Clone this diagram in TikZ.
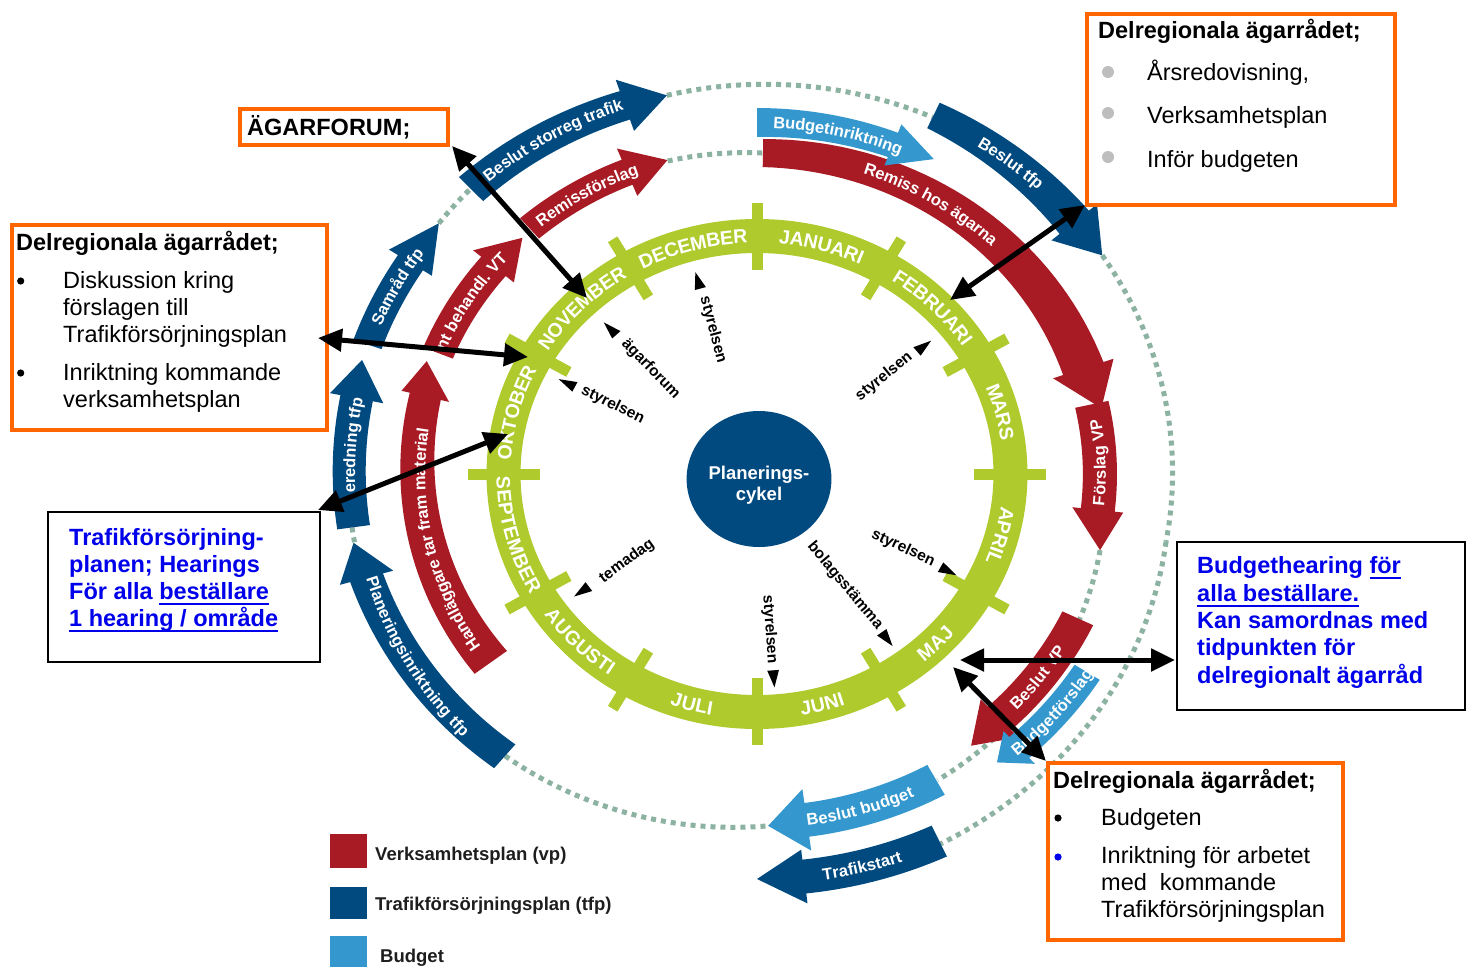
\documentclass[tikz,border=0pt]{standalone}
\usepackage{fontspec}
\setmainfont{Liberation Sans}
\usetikzlibrary{decorations.text, arrows.meta}

\definecolor{vpred}{RGB}{168,26,36}
\definecolor{tfpblue}{RGB}{0,74,128}
\definecolor{budblue}{RGB}{52,152,206}
\definecolor{ringgreen}{RGB}{175,202,45}
\definecolor{dotc}{RGB}{140,178,162}
\definecolor{orng}{RGB}{255,102,0}
\definecolor{tblue}{RGB}{0,0,235}
\definecolor{bulgrey}{RGB}{190,190,190}
\definecolor{lgtext}{RGB}{30,30,30}

\newcommand\mfont{\fontsize{19.5}{19.5}\selectfont\bfseries}
\newcommand\afont{\fontsize{16.5}{16.5}\selectfont\bfseries}

\newsavebox\ulbox
\newcommand\ulx[1]{\sbox\ulbox{#1}\rlap{\rule[-5.5pt]{\wd\ulbox}{2pt}}\usebox\ulbox}

% curved arrow: colour, tail angle, head-base angle, tip angle, inner r tail, outer r tail, inner r base, outer r base, tip r
\newcommand\carrow[9]{%
 \fill[#1] plot[domain=#2:#3, samples=40] ({(#5+(#7-#5)*(\x-(#2))/((#3)-(#2)))*cos(\x)}, {(#5+(#7-#5)*(\x-(#2))/((#3)-(#2)))*sin(\x)})
 -- (#3:{#7-\hw}) -- (#4:#9) -- (#3:{#8+\hw})
 -- plot[domain=#3:#2, samples=40] ({(#6+(#8-#6)*(\x-(#2))/((#3)-(#2)))*cos(\x)}, {(#6+(#8-#6)*(\x-(#2))/((#3)-(#2)))*sin(\x)}) -- cycle;}

\newcommand\spiral[4]{\draw[dotline] plot[domain=#1:#2, samples=60] ({(#3+(#4-#3)*(\x-(#1))/((#2)-(#1)))*cos(\x)}, {(#3+(#4-#3)*(\x-(#1))/((#2)-(#1)))*sin(\x)});}

% text along arcs: centre angle, half span, radius, font, raise, text
\newcommand\tcw[6]{\path[decorate, decoration={text along path, text={|#4|#6}, text align=center, text color=white, raise=#5}] ({#1+#2}:#3) arc[start angle={#1+#2}, end angle={#1-#2}, radius=#3];}
\newcommand\tccw[6]{\path[decorate, decoration={text along path, text={|#4|#6}, text align=center, text color=white, raise=#5}] ({#1-#2}:#3) arc[start angle={#1-#2}, end angle={#1+#2}, radius=#3];}
\newcommand\mcw[2]{\tcw{#1}{24}{238}{\mfont}{-7pt}{#2}}
\newcommand\mccw[2]{\tccw{#1}{24}{238}{\mfont}{-7pt}{#2}}
\newcommand\acw[4]{\tcw{#1}{#2}{#3}{\afont}{-5.9pt}{#4}}
\newcommand\accw[4]{\tccw{#1}{#2}{#3}{\afont}{-5.9pt}{#4}}

% radial label: name, angle, text r, rotation, tip r, text
\newcommand\rlab[6]{%
 \node[slab, rotate=#4] (#1) at (#2:#3) {#6};
 \fill[black] (#2:#5) -- ({#2+1.6}:{#5-17}) -- ({#2-1.6}:{#5-17}) -- cycle;}

\tikzset{
 obox/.style={draw=orng, line width=3.5pt, fill=white, inner sep=0, anchor=north west},
 kbox/.style={draw=black, line width=2pt, fill=white, inner sep=0, anchor=north west},
 bx/.style={inner sep=0, anchor=base west, font=\fontsize{23.5}{27}\selectfont},
 bxh/.style={inner sep=0, anchor=base west, font=\fontsize{23.5}{27}\selectfont\bfseries},
 bxb/.style={inner sep=0, anchor=base west, font=\fontsize{23.5}{27}\selectfont\bfseries, text=tblue},
 lg/.style={inner sep=0, anchor=base west, font=\fontsize{18.5}{18.5}\selectfont\bfseries, text=lgtext},
 slab/.style={inner sep=0, font=\fontsize{15.5}{15.5}\selectfont\bfseries, text=black},
 dotline/.style={draw=dotc, line width=5pt, dash pattern=on 5pt off 5pt},
 dbl/.style={line width=5pt, {Triangle[length=24pt,width=22pt]}-{Triangle[length=24pt,width=22pt]}},
}

\begin{document}
\begin{tikzpicture}[x=1pt, y=1pt]
\fill[white] (0,0) rectangle (1468,-967);
\useasboundingbox (0,0) rectangle (1468,-967);

\begin{scope}[shift={(757,-474)}, xscale=1.065]
 % dotted tracks
 \spiral{102.6}{65.2}{388}{393}
 \spiral{105}{89}{324}{321}
 \spiral{140}{133.5}{390}{392}
 \spiral{188}{190.3}{384}{384}
 \spiral{230}{271.7}{368}{352}
 \spiral{34}{-10}{391}{390}
 \spiral{-10}{-65}{390}{408}
 \spiral{-13.3}{-61}{331}{350}

 % red arrows (vp)
 \def\hw{8}\carrow{vpred}{217}{166}{160}{294}{332}{306}{336}{330}
 \def\hw{10}\carrow{vpred}{158}{140}{133}{308}{338}{308}{338}{323}
 \def\hw{12}\carrow{vpred}{131}{112}{105}{312}{339}{312}{339}{325}
 \def\hw{10}\carrow{vpred}{89}{19}{11.5}{307}{335}{304}{344}{330}
 \def\hw{8}\carrow{vpred}{12.5}{-6.4}{-13.3}{306}{338}{306}{338}{331}
 \def\hw{10}\carrow{vpred}{-25.6}{-47}{-53.5}{318}{350}{318}{350}{338}

 % dark blue arrows (tfp)
 \def\hw{10}\carrow{tfpblue}{230}{195.8}{190.3}{353}{384}{365}{397}{385}
 \def\hw{10}\carrow{tfpblue}{188}{168.6}{162.9}{367}{398}{368}{399}{388}
 \def\hw{10}\carrow{tfpblue}{160.5}{147}{140}{374}{402}{374}{402}{390}
 \def\hw{12}\carrow{tfpblue}{133.3}{108.6}{102.6}{375}{408}{374}{404}{388}
 \def\hw{10}\carrow{tfpblue}{65.2}{40.2}{34}{381}{409}{372}{408}{391}
 \def\hw{10}\carrow{tfpblue}{-65}{-83.7}{-90}{388}{422}{388}{422}{405}

 % light blue arrows (budget)
 \def\hw{9}\carrow{budblue}{90}{68.8}{62.2}{337}{366}{340}{366}{356}
 \def\hw{8}\carrow{budblue}{-32.6}{-48}{-52}{354}{382}{354}{382}{366}
 \def\hw{14}\carrow{budblue}{-61.2}{-82.3}{-88.3}{332}{366}{332}{366}{352}

 % arrow labels
 \acw{192.5}{35}{317}{Handläggare tar fram material}
 \acw{147.5}{25}{323}{nt behandl. VT}
 \acw{120}{25}{325}{Remissförslag}
 \acw{58.5}{30}{322}{Remiss hos ägarna}
 \acw{77.3}{20}{352}{Budgetinriktning}
 \acw{52.3}{20}{393}{Beslut tfp}
 \acw{120}{22}{391}{Beslut storreg trafik}
 \acw{151.2}{20}{388}{Samråd tfp}
 \acw{175.7}{20}{383}{eredning tfp}
 \accw{-150.5}{25}{376}{Planeringsinriktning tfp}
 \accw{2}{22}{322}{Förslag VP}
 \accw{-37.5}{20}{334}{Beslut VP}
 \accw{-40.5}{20}{368}{Budgetförslag}
 \accw{-73.7}{22}{349}{Beslut budget}
 \accw{-75.8}{20}{405}{Trafikstart}

 % green month ring
 \draw[ringgreen, line width=34pt] (0,0) circle[radius=238];
 \foreach \a in {0,30,...,330} \draw[ringgreen, line width=11pt] (\a:204) -- (\a:271);
 \mcw{165}{OKTOBER}
 \mcw{135}{NOVEMBER}
 \mcw{105}{DECEMBER}
 \mcw{75}{JANUARI}
 \mcw{45}{FEBRUARI}
 \mcw{15}{MARS}
 \mcw{-15}{APRIL}
 \mccw{-45}{MAJ}
 \mccw{-75}{JUNI}
 \mccw{-105}{JULI}
 \mccw{-135}{AUGUSTI}
 \mccw{-165}{SEPTEMBER}

 % centre
 \fill[tfpblue] (1.9,-5) circle[radius=68];

 % radial labels
 \rlab{s1}{106}{150}{-75}{210}{styrelsen}
 \rlab{s2}{133.5}{145}{-46}{209}{ägarforum}
 \rlab{s3}{153}{152}{-26}{209}{styrelsen}
 \rlab{s4}{215.5}{150}{36}{211}{temadag}
 \rlab{s5}{-85.6}{156}{-86}{214}{styrelsen}
 \rlab{s6}{-53.5}{139}{-50}{214}{bolagsstämma}
 \rlab{s7}{-28.4}{156}{-25}{213}{styrelsen}
 \rlab{s8}{39.2}{154}{39}{211}{styrelsen}
\end{scope}

\node[font=\fontsize{18.5}{21}\selectfont\bfseries, text=white, align=center, inner sep=0] (pc) at (759,-485) {Planerings-\\cykel};

% legend
\fill[vpred] (330,-834) rectangle (367,-868);
\fill[tfpblue] (330,-887) rectangle (367,-919);
\fill[budblue] (330,-936) rectangle (367,-967);
\node[lg] (lg1) at (375,-860) {Verksamhetsplan (vp)};
\node[lg] (lg2) at (375,-910) {Trafikförsörjningsplan (tfp)};
\node[lg] (lg3) at (380,-962) {Budget};

% boxes
\node[obox, minimum width=208, minimum height=36] (agar) at (238,-107) {};
\node[bxh] (agart) at (247,-135) {ÄGARFORUM;};

\node[obox, minimum width=315, minimum height=205] (dl) at (10,-223) {};
\node[bxh] (dlh) at (16,-250) {Delregionala ägarrådet;};
\fill[black] (20.7,-281) circle[radius=3.6];
\fill[black] (20.7,-373) circle[radius=3.6];
\node[bx] (dl1) at (63,-288) {Diskussion kring};
\node[bx] (dl2) at (63,-315) {förslagen till};
\node[bx] (dl3) at (63,-342.7) {Trafikförsörjningsplan};
\node[bx] (dl4) at (63,-380) {Inriktning kommande};
\node[bx] (dl5) at (63,-407.7) {verksamhetsplan};

\node[obox, minimum width=308, minimum height=191] (tr) at (1085,-12) {};
\node[bxh] (trh) at (1098,-38.5) {Delregionala ägarrådet;};
\fill[bulgrey] (1108,-72) circle[radius=6];
\fill[bulgrey] (1108,-113) circle[radius=6];
\fill[bulgrey] (1108,-157) circle[radius=6];
\node[bx] (tr1) at (1147,-80) {Årsredovisning,};
\node[bx] (tr2) at (1147,-123) {Verksamhetsplan};
\node[bx] (tr3) at (1147,-167) {Inför budgeten};

\node[kbox, minimum width=272, minimum height=150] (tfp) at (47,-511) {};
\node[bxb] (tfp1) at (69,-545) {Trafikförsörjning-};
\node[bxb] (tfp2) at (69,-572) {planen; Hearings};
\node[bxb] (tfp3) at (69,-599) {För alla \ulx{beställare}};
\node[bxb] (tfp4) at (69,-626) {\ulx{1 hearing / område}};

\node[kbox, minimum width=288, minimum height=168] (bh) at (1176,-541) {};
\node[bxb] (bh1) at (1197,-573) {Budgethearing \ulx{för}};
\node[bxb] (bh2) at (1197,-601) {\ulx{alla beställare.}};
\node[bxb] (bh3) at (1197,-628) {Kan samordnas med};
\node[bxb] (bh4) at (1197,-655) {tidpunkten för};
\node[bxb] (bh5) at (1197,-683) {delregionalt ägarråd};

\node[obox, minimum width=295, minimum height=177] (br) at (1046,-761) {};
\node[bxh] (brh) at (1053,-788) {Delregionala ägarrådet;};
\fill[black] (1058,-818) circle[radius=3.6];
\fill[tblue] (1058,-857) circle[radius=3.6];
\node[bx] (br1) at (1101,-825) {Budgeten};
\node[bx] (br2) at (1101,-863) {Inriktning för arbetet};
\node[bx] (br3) at (1101,-890) {med\ \ kommande};
\node[bx] (br4) at (1101,-917) {Trafikförsörjningsplan};

% black double arrows
\coordinate (pNov) at (587,-298);
\coordinate (pL) at (528,-357);
\coordinate (pOkt) at (508,-434);
\coordinate (pFeb) at (950,-300);
\coordinate (pMaj1) at (960,-660);
\coordinate (pMaj2) at (953,-667);
\coordinate (eAgar) at (452,-146);
\coordinate (eDl) at (318,-338);
\coordinate (eTfp) at (318,-510);
\coordinate (eTr) at (1085,-205);
\coordinate (eBh) at (1175,-660);
\coordinate (eBr) at (1046,-761);
\draw[dbl] (eAgar) -- (pNov);
\draw[dbl] (eDl) -- (pL);
\draw[dbl] (eTfp) -- (pOkt);
\draw[dbl] (eTr) -- (pFeb);
\draw[dbl] (pMaj1) -- (eBh);
\draw[dbl] (pMaj2) -- (eBr);
\end{tikzpicture}
\end{document}
